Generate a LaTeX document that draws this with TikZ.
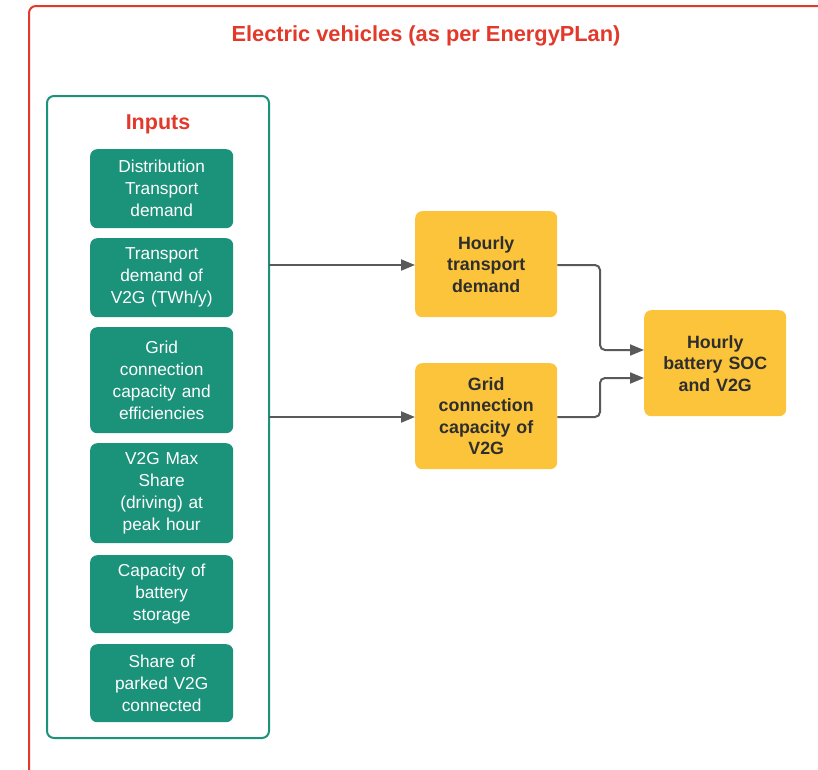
\documentclass[tikz,border=0pt]{standalone}
\usepackage{fontspec}
\setmainfont{Liberation Sans}
\usetikzlibrary{arrows.meta}
\definecolor{frame}{HTML}{E2392B}
\definecolor{inputgreen}{HTML}{1B927A}
\definecolor{outgold}{HTML}{FBC43A}
\definecolor{linkgrey}{HTML}{595959}
\definecolor{darktext}{HTML}{2E2E2E}
\tikzset{
  inbox/.style={rectangle, rounded corners=7pt, fill=inputgreen, draw=none,
    minimum width=143pt, inner sep=0pt, text width=134pt, align=center,
    text=white, font=\fontsize{17.3}{22}\selectfont, anchor=north west},
  outbox/.style={rectangle, rounded corners=7pt, fill=outgold, draw=none,
    minimum width=142pt, minimum height=106pt, inner sep=0pt, text width=134pt,
    align=center, text=darktext, font=\bfseries\fontsize{17.8}{21.5}\selectfont,
    anchor=north west},
  link/.style={draw=linkgrey, line width=2pt, rounded corners=5pt,
    -{Triangle[length=14pt,width=11pt]}},
}
\begin{document}
\begin{tikzpicture}[x=1pt,y=-1pt]
\useasboundingbox (0,0) rectangle (818,769);
% outer frame, running off the page to the right and bottom
\draw[frame, line width=2pt, rounded corners=7pt] (29,800) -- (29,6) -- (850,6);
\node[text=frame, font=\bfseries\fontsize{21.8}{25}\selectfont] (title) at (426,36)
  {Electric vehicles (as per EnergyPLan)};

% inputs panel
\draw[inputgreen, line width=2pt, rounded corners=7pt] (47,96) rectangle (269,738);
\coordinate (panelA) at (269,265);
\coordinate (panelB) at (269,417);
\node[text=frame, font=\bfseries\fontsize{21.5}{25}\selectfont] (inputs) at (158,124) {Inputs};

\node[inbox, minimum height=79pt]  (i1) at (90,149) {Distribution\\Transport\\demand};
\node[inbox, minimum height=79pt]  (i2) at (90,238) {Transport\\demand of\\V2G (TWh/y)};
\node[inbox, minimum height=106pt] (i3) at (90,327) {Grid\\connection\\capacity and\\efficiencies};
\node[inbox, minimum height=100pt] (i4) at (90,443) {V2G Max\\Share\\(driving) at\\peak hour};
\node[inbox, minimum height=78pt]  (i5) at (90,555) {Capacity of\\battery\\storage};
\node[inbox, minimum height=78pt]  (i6) at (90,644) {Share of\\parked V2G\\connected};

% computed quantities
\node[outbox] (hourly) at (415,211) {Hourly\\transport\\demand};
\node[outbox] (grid)   at (415,363) {Grid\\connection\\capacity of\\V2G};
\node[outbox] (soc)    at (644,310) {Hourly\\battery SOC\\and V2G};

% connectors
\draw[link] (panelA) -- (panelA -| hourly.west);
\draw[link] (panelB) -- (panelB -| grid.west);
\draw[link] (hourly.east |- panelA) -- (600,265) -- (600,350) -- (soc.west |- {(0,350)});
\draw[link] (grid.east |- panelB) -- (600,417) -- (600,378) -- (soc.west |- {(0,378)});
\end{tikzpicture}
\end{document}
